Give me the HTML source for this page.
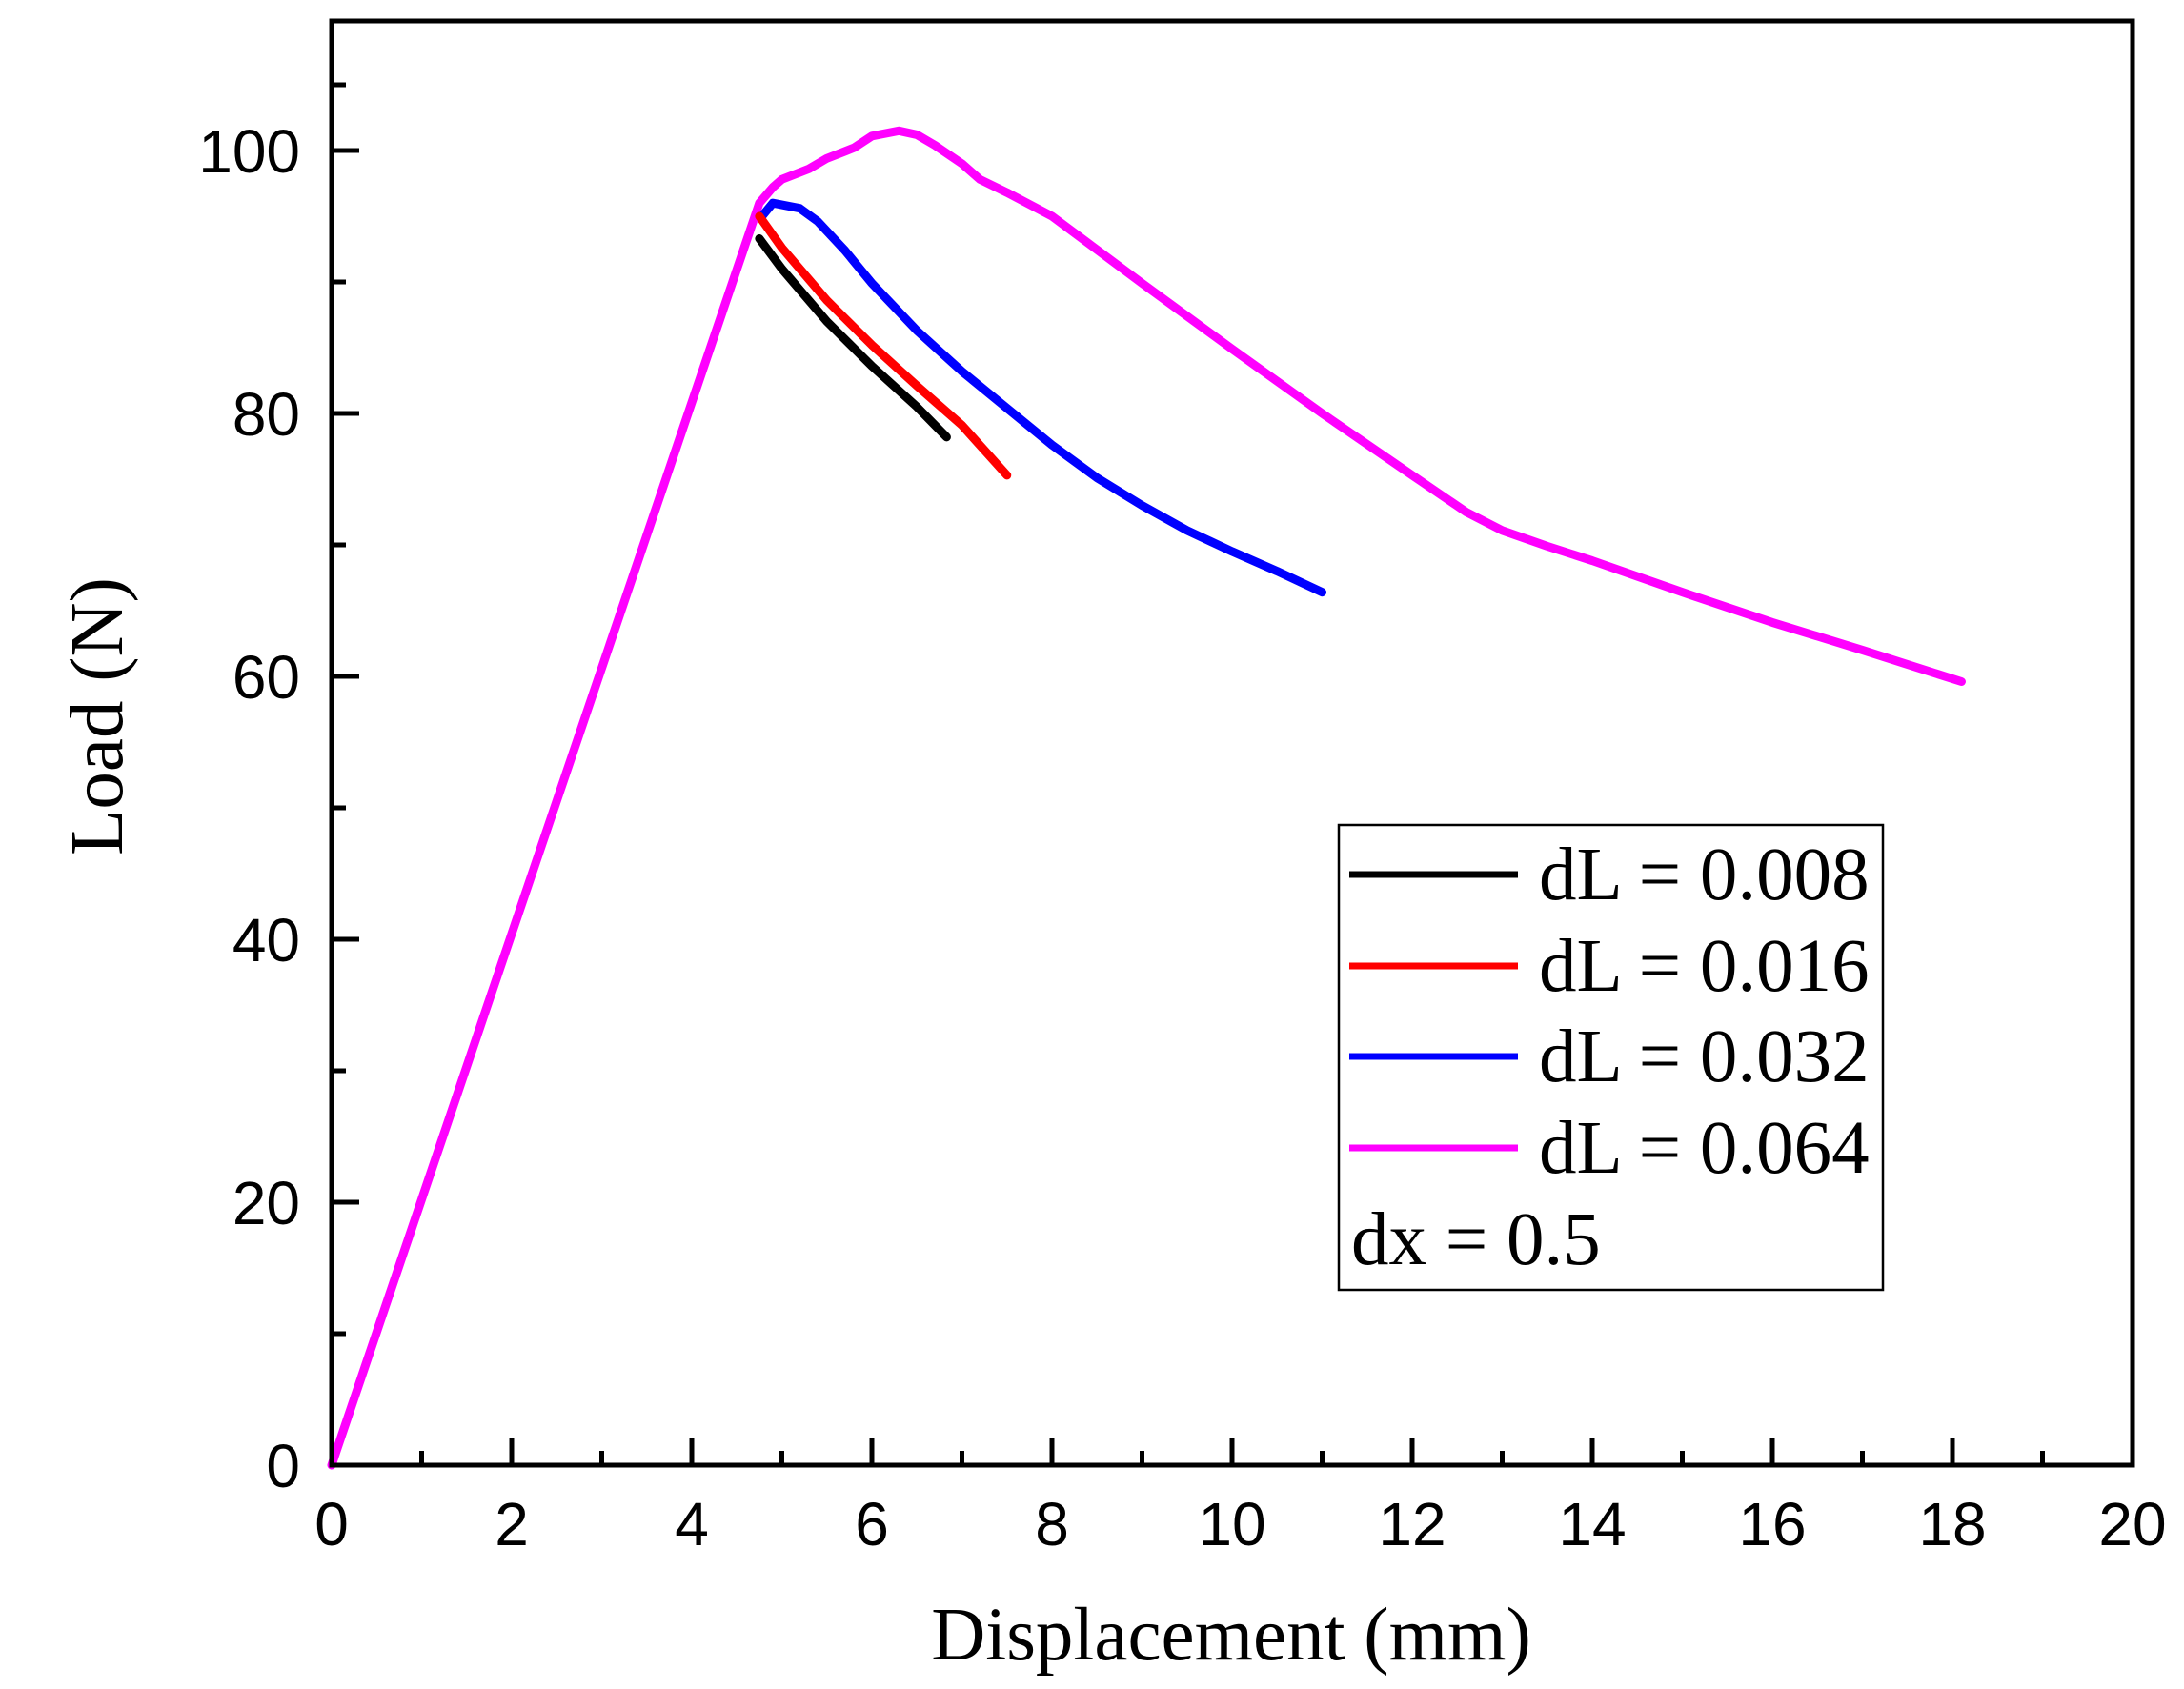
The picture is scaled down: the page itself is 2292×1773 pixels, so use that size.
<!DOCTYPE html>
<html><head><meta charset="utf-8"><style>
html,body{margin:0;padding:0;background:#fff;}
svg{display:block;}
</style></head><body>
<svg width="2292" height="1773" viewBox="0 0 2292 1773" xmlns="http://www.w3.org/2000/svg">
<rect width="2292" height="1773" fill="#fff"/>
<g fill="none" stroke-linejoin="round" stroke-linecap="round" transform="translate(348,1538) scale(94.5,-13.8)">
<polyline vector-effect="non-scaling-stroke" stroke="#ff00ff" stroke-width="9" points="0,0 4.75,96 4.9,97.2 5,97.8 5.3,98.6 5.5,99.4 5.8,100.2 6,101.1 6.3,101.5 6.5,101.2 6.7,100.4 7,99 7.2,97.8 7.5,96.8 8,95 9,89.9 10,84.9 11,80 12,75.3 12.6,72.5 13,71.1 13.5,69.9 14,68.8 15,66.4 16,64.1 17,62 18.1,59.6"/>
<polyline vector-effect="non-scaling-stroke" stroke="#0000ff" stroke-width="9" points="4.78,95 4.9,96 5.2,95.6 5.4,94.6 5.7,92.4 6,89.9 6.5,86.3 7,83.2 7.5,80.4 8,77.6 8.5,75.1 9,73 9.5,71.1 10,69.5 10.5,68 11,66.4"/>
<polyline vector-effect="non-scaling-stroke" stroke="#000" stroke-width="9" points="4.75,93.3 5,91 5.5,87 6,83.6 6.5,80.5 6.83,78.2"/>
<polyline vector-effect="non-scaling-stroke" stroke="#ff0000" stroke-width="9" points="4.75,95 5,92.6 5.5,88.6 6,85.2 6.5,82.1 7,79.1 7.5,75.3"/>
</g>
<g stroke="#000" stroke-width="5" fill="none">
<rect x="348" y="22" width="1890" height="1516"/>
<path d="M348,1538v-29 M537,1538v-29 M726,1538v-29 M915,1538v-29 M1104,1538v-29 M1293,1538v-29 M1482,1538v-29 M1671,1538v-29 M1860,1538v-29 M2049,1538v-29
M442.5,1538v-15 M631.5,1538v-15 M820.5,1538v-15 M1009.5,1538v-15 M1198.5,1538v-15 M1387.5,1538v-15 M1576.5,1538v-15 M1765.5,1538v-15 M1954.5,1538v-15 M2143.5,1538v-15
M348,1262h29 M348,986h29 M348,710h29 M348,434h29 M348,158h29
M348,1400h15 M348,1124h15 M348,848h15 M348,572h15 M348,296h15 M348,89h15"/>
</g>
<g font-family="Liberation Sans, sans-serif" font-size="64" fill="#000" text-anchor="middle">
<text x="348" y="1622">0</text><text x="537" y="1622">2</text><text x="726" y="1622">4</text><text x="915" y="1622">6</text><text x="1104" y="1622">8</text><text x="1293" y="1622">10</text><text x="1482" y="1622">12</text><text x="1671" y="1622">14</text><text x="1860" y="1622">16</text><text x="2049" y="1622">18</text><text x="2238" y="1622">20</text>
</g>
<g font-family="Liberation Sans, sans-serif" font-size="64" fill="#000" text-anchor="end">
<text x="315" y="1561">0</text><text x="315" y="1285">20</text><text x="315" y="1009">40</text><text x="315" y="733">60</text><text x="315" y="457">80</text><text x="315" y="181">100</text>
</g>
<g font-family="Liberation Serif, serif" font-size="79" fill="#000">
<text x="1292" y="1742" text-anchor="middle">Displacement (mm)</text>
<text transform="translate(128,752) rotate(-90)" text-anchor="middle">Load (N)</text>
</g>
<rect x="1405" y="866" width="571" height="488" fill="#fff" stroke="#000" stroke-width="2.5"/>
<g stroke-width="7">
<line x1="1416" y1="918" x2="1593" y2="918" stroke="#000"/>
<line x1="1416" y1="1014" x2="1593" y2="1014" stroke="#ff0000"/>
<line x1="1416" y1="1109" x2="1593" y2="1109" stroke="#0000ff"/>
<line x1="1416" y1="1205" x2="1593" y2="1205" stroke="#ff00ff"/>
</g>
<g font-family="Liberation Serif, serif" font-size="79" fill="#000">
<text x="1615" y="944">dL = 0.008</text>
<text x="1615" y="1040">dL = 0.016</text>
<text x="1615" y="1135">dL = 0.032</text>
<text x="1615" y="1231">dL = 0.064</text>
<text x="1418" y="1327">dx = 0.5</text>
</g>
</svg>
</body></html>
